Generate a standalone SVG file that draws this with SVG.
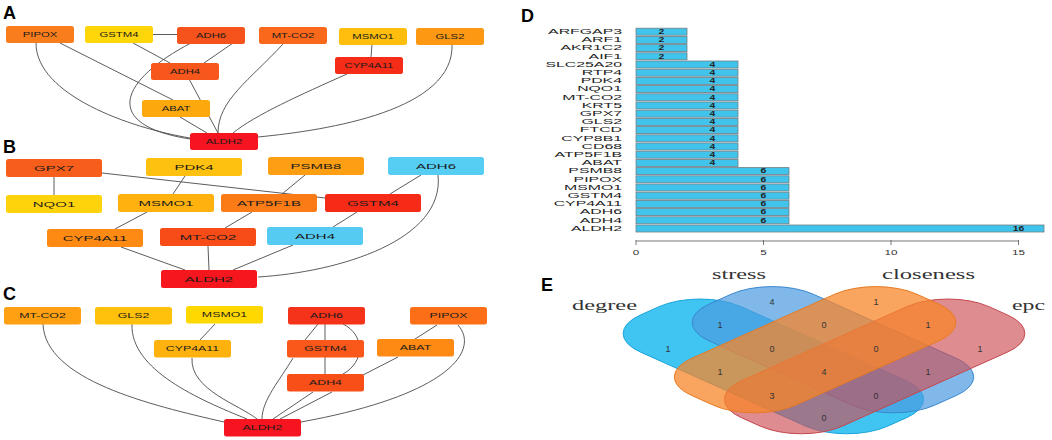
<svg xmlns="http://www.w3.org/2000/svg" width="1052" height="440" viewBox="0 0 1052 440">
<style>
.pl{font-family:"Liberation Sans",Arial,sans-serif;font-weight:bold;font-size:18px;fill:#000}
.e{fill:none;stroke:#4a4a4a;stroke-width:0.9}
.nt{font-family:"Liberation Sans",Arial,sans-serif;fill:#1a1a1a;text-anchor:middle}
.ta{font-size:7.3px}
.tb{font-size:7.5px}
.tc{font-size:7.2px}
.bl{font-family:"Liberation Sans",Arial,sans-serif;font-size:6.6px;fill:#222;text-anchor:end}
.bv{font-family:"Liberation Sans",Arial,sans-serif;font-size:6.5px;fill:#222;text-anchor:middle;font-weight:bold}
.ax{font-family:"Liberation Sans",Arial,sans-serif;font-size:6.5px;fill:#333;text-anchor:middle}
.bar{fill:#41c4ec;stroke:#6f7f86;stroke-width:0.8}
.vl{font-family:"Liberation Serif","Times New Roman",serif;font-size:15px;fill:#333}
.vn{font-family:"Liberation Sans",Arial,sans-serif;font-size:9px;fill:#333;text-anchor:middle}
</style>
<rect width="1052" height="440" fill="#fff"/>
<text class="pl" x="3" y="19">A</text>
<text class="pl" x="3" y="153">B</text>
<text class="pl" x="3" y="300">C</text>
<text class="pl" x="521" y="22">D</text>
<text class="pl" x="541" y="291">E</text>

<g id="connectors">
 <g id="edges-A">
  <path class="e" d="M153,34.5 L177,34.5"/>
  <path class="e" d="M36,43 C36,95 130,128 190,138"/>
  <path class="e" d="M60,43 L173,100"/>
  <path class="e" d="M133,43 L170,63"/>
  <path class="e" d="M233,43 L204,63"/>
  <path class="e" d="M191,43 C120,80 100,125 190,139"/>
  <path class="e" d="M189,79 L218,133"/>
  <path class="e" d="M180,117 L207,133"/>
  <path class="e" d="M283,44 C250,80 218,100 218,133"/>
  <path class="e" d="M372,44 L371,57"/>
  <path class="e" d="M347,74 C300,95 255,115 233,133"/>
  <path class="e" d="M452,44 C455,110 330,130 258,137"/>
 </g>
 <g id="edges-B">
  <path class="e" d="M54,177 L54,195"/>
  <path class="e" d="M102,173 L325,198"/>
  <path class="e" d="M185,176 L173,194"/>
  <path class="e" d="M305,175 L282,194"/>
  <path class="e" d="M421,175 L390,194"/>
  <path class="e" d="M438,175 C445,240 340,272 258,277"/>
  <path class="e" d="M147,212 L115,229"/>
  <path class="e" d="M252,212 L225,228"/>
  <path class="e" d="M357,212 L333,227"/>
  <path class="e" d="M121,247 L185,270"/>
  <path class="e" d="M208,246 L209,270"/>
  <path class="e" d="M293,245 L233,270"/>
 </g>
 <g id="edges-C">
  <path class="e" d="M43,324 C45,380 150,405 224,422"/>
  <path class="e" d="M132,324 C130,370 200,400 247,419"/>
  <path class="e" d="M215,324 L200,340"/>
  <path class="e" d="M192,358 C190,390 240,405 257,419"/>
  <path class="e" d="M318,324 L305,340"/>
  <path class="e" d="M325,324 L325,374"/>
  <path class="e" d="M343,324 C365,335 365,362 343,374"/>
  <path class="e" d="M437,325 L415,339"/>
  <path class="e" d="M458,325 C480,350 450,395 301,422"/>
  <path class="e" d="M398,357 L363,375"/>
  <path class="e" d="M293,358 C280,380 262,400 262,419"/>
  <path class="e" d="M313,392 L273,419"/>
  <path class="e" d="M332,392 L280,419"/>
 </g>
</g>

<!-- Panel A nodes -->
<g id="A-PIPOX"><rect x="6" y="26" width="68" height="17" rx="2.5" fill="#f97d1c"/><text class="nt ta" transform="translate(40,37.2) scale(1.55,1)">PIPOX</text></g>
<g id="A-GSTM4"><rect x="85" y="26" width="68" height="17" rx="2.5" fill="#ffd60a"/><text class="nt ta" transform="translate(119,37.2) scale(1.55,1)">GSTM4</text></g>
<g id="A-ADH6"><rect x="177" y="27" width="68" height="17" rx="2.5" fill="#f6521b"/><text class="nt ta" transform="translate(211,38.2) scale(1.55,1)">ADH6</text></g>
<g id="A-MT-CO2"><rect x="259" y="27" width="68" height="17" rx="2.5" fill="#f9681b"/><text class="nt ta" transform="translate(293,38.2) scale(1.55,1)">MT-CO2</text></g>
<g id="A-MSMO1"><rect x="339" y="28" width="68" height="17" rx="2.5" fill="#ffbe0d"/><text class="nt ta" transform="translate(373,39.2) scale(1.55,1)">MSMO1</text></g>
<g id="A-GLS2"><rect x="416" y="28" width="68" height="17" rx="2.5" fill="#fd9812"/><text class="nt ta" transform="translate(450,39.2) scale(1.55,1)">GLS2</text></g>
<g id="A-ADH4"><rect x="151" y="63" width="68" height="17" rx="2.5" fill="#f7561c"/><text class="nt ta" transform="translate(185,74.2) scale(1.55,1)">ADH4</text></g>
<g id="A-CYP4A11"><rect x="335" y="57" width="68" height="17" rx="2.5" fill="#f42c18"/><text class="nt ta" transform="translate(369,68.2) scale(1.55,1)">CYP4A11</text></g>
<g id="A-ABAT"><rect x="142" y="100" width="68" height="17" rx="2.5" fill="#fda90e"/><text class="nt ta" transform="translate(176,111.2) scale(1.55,1)">ABAT</text></g>
<g id="A-ALDH2"><rect x="190" y="133" width="68" height="17" rx="2.5" fill="#f5141f"/><text class="nt ta" transform="translate(224,144.2) scale(1.55,1)">ALDH2</text></g>

<!-- Panel B nodes -->
<g id="B-GPX7"><rect x="6" y="159" width="96" height="18" rx="2.5" fill="#f85e1b"/><text class="nt tb" transform="translate(54,170.7) scale(2,1)">GPX7</text></g>
<g id="B-PDK4"><rect x="146" y="158" width="96" height="18" rx="2.5" fill="#ffc10f"/><text class="nt tb" transform="translate(194,169.7) scale(2,1)">PDK4</text></g>
<g id="B-PSMB8"><rect x="268" y="157" width="96" height="18" rx="2.5" fill="#fe9e12"/><text class="nt tb" transform="translate(316,168.7) scale(2,1)">PSMB8</text></g>
<g id="B-ADH6"><rect x="388" y="157" width="96" height="18" rx="2.5" fill="#56cdf3"/><text class="nt tb" transform="translate(436,168.7) scale(2,1)">ADH6</text></g>
<g id="B-NQO1"><rect x="6" y="195" width="96" height="18" rx="2.5" fill="#ffd30c"/><text class="nt tb" transform="translate(54,206.7) scale(2,1)">NQO1</text></g>
<g id="B-MSMO1"><rect x="118" y="194" width="96" height="18" rx="2.5" fill="#ffb20d"/><text class="nt tb" transform="translate(166,205.7) scale(2,1)">MSMO1</text></g>
<g id="B-ATP5F1B"><rect x="221" y="194" width="96" height="18" rx="2.5" fill="#fb7c17"/><text class="nt tb" transform="translate(269,205.7) scale(2,1)">ATP5F1B</text></g>
<g id="B-GSTM4"><rect x="325" y="194" width="96" height="18" rx="2.5" fill="#f62b17"/><text class="nt tb" transform="translate(373,205.7) scale(2,1)">GSTM4</text></g>
<g id="B-CYP4A11"><rect x="47" y="229" width="96" height="18" rx="2.5" fill="#fe8a14"/><text class="nt tb" transform="translate(95,240.7) scale(2,1)">CYP4A11</text></g>
<g id="B-MT-CO2"><rect x="160" y="228" width="96" height="18" rx="2.5" fill="#f84c18"/><text class="nt tb" transform="translate(208,239.7) scale(2,1)">MT-CO2</text></g>
<g id="B-ADH4"><rect x="267" y="227" width="96" height="18" rx="2.5" fill="#55cbf2"/><text class="nt tb" transform="translate(315,238.7) scale(2,1)">ADH4</text></g>
<g id="B-ALDH2"><rect x="161" y="270" width="96" height="18" rx="2.5" fill="#f5161e"/><text class="nt tb" transform="translate(209,281.7) scale(2,1)">ALDH2</text></g>

<!-- Panel C nodes -->
<g id="C-MT-CO2"><rect x="4" y="307" width="77" height="17.5" rx="2.5" fill="#fea012"/><text class="nt tc" transform="translate(42.5,318.4) scale(1.72,1)">MT-CO2</text></g>
<g id="C-GLS2"><rect x="95" y="307" width="77" height="17.5" rx="2.5" fill="#ffc10b"/><text class="nt tc" transform="translate(133.5,318.4) scale(1.72,1)">GLS2</text></g>
<g id="C-MSMO1"><rect x="186" y="306" width="77" height="17.5" rx="2.5" fill="#ffd800"/><text class="nt tc" transform="translate(224.5,317.4) scale(1.72,1)">MSMO1</text></g>
<g id="C-ADH6"><rect x="288" y="307" width="77" height="17.5" rx="2.5" fill="#f5321a"/><text class="nt tc" transform="translate(326.5,318.4) scale(1.72,1)">ADH6</text></g>
<g id="C-PIPOX"><rect x="410" y="307" width="77" height="17.5" rx="2.5" fill="#fc6f16"/><text class="nt tc" transform="translate(448.5,318.4) scale(1.72,1)">PIPOX</text></g>
<g id="C-CYP4A11"><rect x="154" y="340" width="77" height="17.5" rx="2.5" fill="#ffb20d"/><text class="nt tc" transform="translate(192.5,351.4) scale(1.72,1)">CYP4A11</text></g>
<g id="C-GSTM4"><rect x="287" y="340" width="77" height="17.5" rx="2.5" fill="#f9581a"/><text class="nt tc" transform="translate(325.5,351.4) scale(1.72,1)">GSTM4</text></g>
<g id="C-ABAT"><rect x="377" y="339" width="77" height="17.5" rx="2.5" fill="#fe8a14"/><text class="nt tc" transform="translate(415.5,350.4) scale(1.72,1)">ABAT</text></g>
<g id="C-ADH4"><rect x="287" y="374" width="77" height="17.5" rx="2.5" fill="#f84f19"/><text class="nt tc" transform="translate(325.5,385.4) scale(1.72,1)">ADH4</text></g>
<g id="C-ALDH2"><rect x="224" y="419" width="77" height="17.5" rx="2.5" fill="#f51420"/><text class="nt tc" transform="translate(262.5,430.4) scale(1.72,1)">ALDH2</text></g>

<!-- Panel D bar chart -->
<g id="D-bars">
 <rect class="bar" x="636" y="28.2" width="51" height="7"/>
 <rect class="bar" x="636" y="36.4" width="51" height="7"/>
 <rect class="bar" x="636" y="44.6" width="51" height="7"/>
 <rect class="bar" x="636" y="52.8" width="51" height="7"/>
 <rect class="bar" x="636" y="61.0" width="102" height="7"/>
 <rect class="bar" x="636" y="69.2" width="102" height="7"/>
 <rect class="bar" x="636" y="77.4" width="102" height="7"/>
 <rect class="bar" x="636" y="85.6" width="102" height="7"/>
 <rect class="bar" x="636" y="93.8" width="102" height="7"/>
 <rect class="bar" x="636" y="102.0" width="102" height="7"/>
 <rect class="bar" x="636" y="110.2" width="102" height="7"/>
 <rect class="bar" x="636" y="118.4" width="102" height="7"/>
 <rect class="bar" x="636" y="126.6" width="102" height="7"/>
 <rect class="bar" x="636" y="134.8" width="102" height="7"/>
 <rect class="bar" x="636" y="143.0" width="102" height="7"/>
 <rect class="bar" x="636" y="151.2" width="102" height="7"/>
 <rect class="bar" x="636" y="159.4" width="102" height="7"/>
 <rect class="bar" x="636" y="167.6" width="153" height="7"/>
 <rect class="bar" x="636" y="175.8" width="153" height="7"/>
 <rect class="bar" x="636" y="184.0" width="153" height="7"/>
 <rect class="bar" x="636" y="192.2" width="153" height="7"/>
 <rect class="bar" x="636" y="200.4" width="153" height="7"/>
 <rect class="bar" x="636" y="208.6" width="153" height="7"/>
 <rect class="bar" x="636" y="216.8" width="153" height="7"/>
 <rect class="bar" x="636" y="225.0" width="408" height="7"/>
</g>
<g id="D-labels">
 <text class="bl" transform="translate(622,34.0) scale(2.4,1)">ARFGAP3</text>
 <text class="bl" transform="translate(622,42.2) scale(2.4,1)">ARF1</text>
 <text class="bl" transform="translate(622,50.4) scale(2.4,1)">AKR1C2</text>
 <text class="bl" transform="translate(622,58.6) scale(2.4,1)">AIF1</text>
 <text class="bl" transform="translate(622,66.8) scale(2.4,1)">SLC25A20</text>
 <text class="bl" transform="translate(622,75.0) scale(2.4,1)">RTP4</text>
 <text class="bl" transform="translate(622,83.2) scale(2.4,1)">PDK4</text>
 <text class="bl" transform="translate(622,91.4) scale(2.4,1)">NQO1</text>
 <text class="bl" transform="translate(622,99.6) scale(2.4,1)">MT-CO2</text>
 <text class="bl" transform="translate(622,107.8) scale(2.4,1)">KRT5</text>
 <text class="bl" transform="translate(622,116.0) scale(2.4,1)">GPX7</text>
 <text class="bl" transform="translate(622,124.2) scale(2.4,1)">GLS2</text>
 <text class="bl" transform="translate(622,132.4) scale(2.4,1)">FTCD</text>
 <text class="bl" transform="translate(622,140.6) scale(2.4,1)">CYP8B1</text>
 <text class="bl" transform="translate(622,148.8) scale(2.4,1)">CD68</text>
 <text class="bl" transform="translate(622,157.0) scale(2.4,1)">ATP5F1B</text>
 <text class="bl" transform="translate(622,165.2) scale(2.4,1)">ABAT</text>
 <text class="bl" transform="translate(622,173.4) scale(2.4,1)">PSMB8</text>
 <text class="bl" transform="translate(622,181.6) scale(2.4,1)">PIPOX</text>
 <text class="bl" transform="translate(622,189.8) scale(2.4,1)">MSMO1</text>
 <text class="bl" transform="translate(622,198.0) scale(2.4,1)">GSTM4</text>
 <text class="bl" transform="translate(622,206.2) scale(2.4,1)">CYP4A11</text>
 <text class="bl" transform="translate(622,214.4) scale(2.4,1)">ADH6</text>
 <text class="bl" transform="translate(622,222.6) scale(2.4,1)">ADH4</text>
 <text class="bl" transform="translate(622,230.8) scale(2.4,1)">ALDH2</text>
</g>
<g id="D-values">
 <text class="bv" transform="translate(661.5,34.0) scale(1.6,1)">2</text>
 <text class="bv" transform="translate(661.5,42.2) scale(1.6,1)">2</text>
 <text class="bv" transform="translate(661.5,50.4) scale(1.6,1)">2</text>
 <text class="bv" transform="translate(661.5,58.6) scale(1.6,1)">2</text>
 <text class="bv" transform="translate(712.5,66.8) scale(1.6,1)">4</text>
 <text class="bv" transform="translate(712.5,75.0) scale(1.6,1)">4</text>
 <text class="bv" transform="translate(712.5,83.2) scale(1.6,1)">4</text>
 <text class="bv" transform="translate(712.5,91.4) scale(1.6,1)">4</text>
 <text class="bv" transform="translate(712.5,99.6) scale(1.6,1)">4</text>
 <text class="bv" transform="translate(712.5,107.8) scale(1.6,1)">4</text>
 <text class="bv" transform="translate(712.5,116.0) scale(1.6,1)">4</text>
 <text class="bv" transform="translate(712.5,124.2) scale(1.6,1)">4</text>
 <text class="bv" transform="translate(712.5,132.4) scale(1.6,1)">4</text>
 <text class="bv" transform="translate(712.5,140.6) scale(1.6,1)">4</text>
 <text class="bv" transform="translate(712.5,148.8) scale(1.6,1)">4</text>
 <text class="bv" transform="translate(712.5,157.0) scale(1.6,1)">4</text>
 <text class="bv" transform="translate(712.5,165.2) scale(1.6,1)">4</text>
 <text class="bv" transform="translate(763.5,173.4) scale(1.6,1)">6</text>
 <text class="bv" transform="translate(763.5,181.6) scale(1.6,1)">6</text>
 <text class="bv" transform="translate(763.5,189.8) scale(1.6,1)">6</text>
 <text class="bv" transform="translate(763.5,198.0) scale(1.6,1)">6</text>
 <text class="bv" transform="translate(763.5,206.2) scale(1.6,1)">6</text>
 <text class="bv" transform="translate(763.5,214.4) scale(1.6,1)">6</text>
 <text class="bv" transform="translate(763.5,222.6) scale(1.6,1)">6</text>
 <text class="bv" transform="translate(1018.5,230.8) scale(1.6,1)">16</text>
</g>
<g id="D-axis" stroke="#555" stroke-width="0.8">
 <line x1="636" y1="241" x2="1018.5" y2="241"/>
 <line x1="636" y1="240" x2="636" y2="245"/>
 <line x1="763.5" y1="240" x2="763.5" y2="245"/>
 <line x1="891" y1="240" x2="891" y2="245"/>
 <line x1="1018.5" y1="240" x2="1018.5" y2="245"/>
</g>
<text class="ax" transform="translate(636,255) scale(1.8,1)">0</text>
<text class="ax" transform="translate(763.5,255) scale(1.8,1)">5</text>
<text class="ax" transform="translate(891,255) scale(1.8,1)">10</text>
<text class="ax" transform="translate(1018.5,255) scale(1.8,1)">15</text>

<!-- Panel E Venn -->
<g id="E-venn" transform="translate(824,360) scale(2.23,1)">
 <rect x="-78.5" y="-32" width="157" height="64" rx="26" transform="translate(-22.7,6.4) rotate(45)" fill="#00b2ee" fill-opacity="0.75" stroke="#1aa3dc" stroke-width="1" vector-effect="non-scaling-stroke"/>
 <rect x="-71.5" y="-33" width="143" height="66" rx="26" transform="translate(4,-10.3) rotate(45)" fill="#4a9be0" fill-opacity="0.7" stroke="#3a87d0" stroke-width="1" vector-effect="non-scaling-stroke"/>
 <rect x="-78.5" y="-32" width="157" height="64" rx="26" transform="translate(22.7,6.4) rotate(-45)" fill="#cd4f55" fill-opacity="0.65" stroke="#c4474d" stroke-width="1" vector-effect="non-scaling-stroke"/>
 <rect x="-71.5" y="-33" width="143" height="66" rx="26" transform="translate(-4,-10.3) rotate(-45)" fill="#f7862a" fill-opacity="0.75" stroke="#e87a22" stroke-width="1" vector-effect="non-scaling-stroke"/>
</g>
<g id="E-labels">
 <text class="vl" x="712" y="279" textLength="54" lengthAdjust="spacingAndGlyphs">stress</text>
 <text class="vl" x="882" y="279" textLength="93" lengthAdjust="spacingAndGlyphs">closeness</text>
 <text class="vl" x="572" y="310" textLength="65" lengthAdjust="spacingAndGlyphs">degree</text>
 <text class="vl" x="1012" y="310" textLength="33" lengthAdjust="spacingAndGlyphs">epc</text>
</g>
<g id="E-counts">
 <text class="vn" x="772" y="305">4</text>
 <text class="vn" x="876" y="305">1</text>
 <text class="vn" x="720" y="328">1</text>
 <text class="vn" x="824" y="328">0</text>
 <text class="vn" x="928" y="328">1</text>
 <text class="vn" x="668" y="352">1</text>
 <text class="vn" x="772" y="352">0</text>
 <text class="vn" x="876" y="352">0</text>
 <text class="vn" x="980" y="352">1</text>
 <text class="vn" x="720" y="375">1</text>
 <text class="vn" x="824" y="375">4</text>
 <text class="vn" x="928" y="375">1</text>
 <text class="vn" x="772" y="399">3</text>
 <text class="vn" x="876" y="399">0</text>
 <text class="vn" x="824" y="421">0</text>
</g>
</svg>
